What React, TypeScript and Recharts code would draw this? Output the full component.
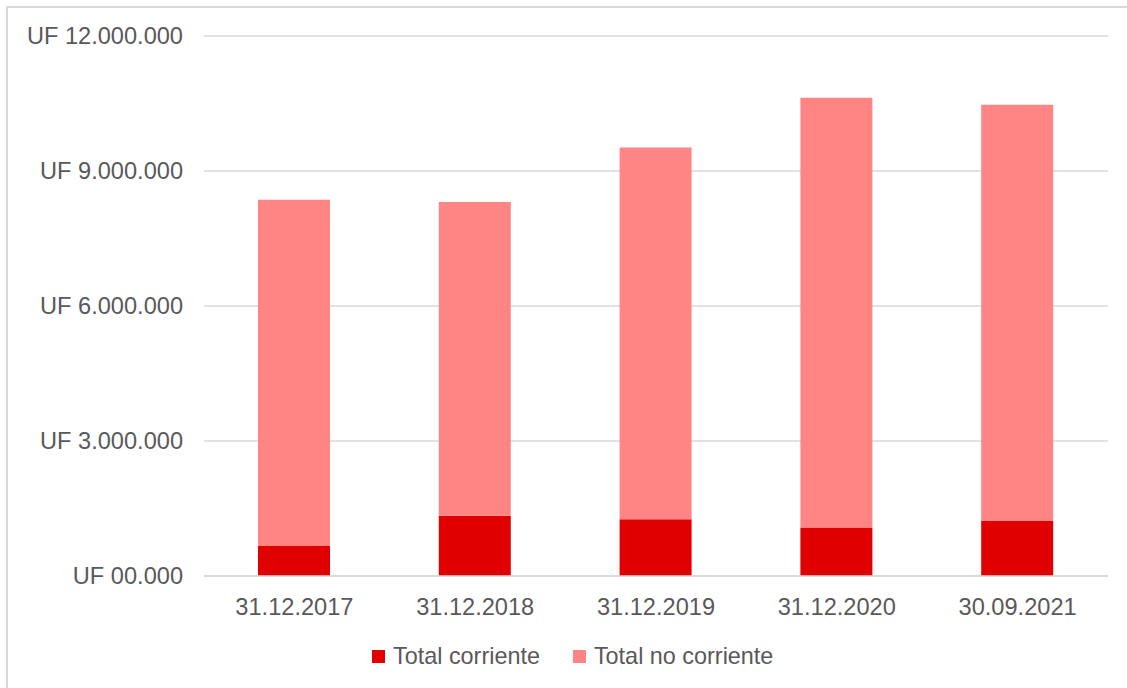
import { BarChart, Bar, XAxis, YAxis, CartesianGrid, Legend } from 'recharts'

const periods = ['31.12.2017', '31.12.2018', '31.12.2019', '31.12.2020', '30.09.2021']
const totalCorriente = [680000, 1340000, 1260000, 1080000, 1220000]
const totalNoCorriente = [7680000, 6970000, 8260000, 9550000, 9250000]
const yTicks = [0, 3000000, 6000000, 9000000, 12000000]
const yTickLabels = ['UF 00.000', 'UF 3.000.000', 'UF 6.000.000', 'UF 9.000.000', 'UF 12.000.000']

const seriesNames = ['Total corriente', 'Total no corriente']
const colors = ['#e00000', '#ff8585']

const data = periods.map((p, i) => ({
  period: p,
  corriente: totalCorriente[i],
  noCorriente: totalNoCorriente[i],
}))

const textColor = '#595959'
const font = '"Liberation Sans", Arial, sans-serif'
const fontSize = 23.6

function LegendBox() {
  return (
    <div style={{ display: 'flex', alignItems: 'center', fontFamily: font, fontSize: 23.4, color: textColor, lineHeight: '26px' }}>
      {seriesNames.map((n, i) => (
        <div key={n} style={{ display: 'flex', alignItems: 'center', marginRight: i === 0 ? 33 : 0 }}>
          <span style={{ width: 13, height: 13, background: colors[i], marginRight: 8, display: 'inline-block' }} />
          <span>{n}</span>
        </div>
      ))}
    </div>
  )
}

export default function App() {
  return (
    <div
      style={{
        position: 'absolute',
        left: 6,
        top: 6,
        width: 1121,
        height: 682,
        borderTop: '2px solid #d9d9d9',
        borderLeft: '2px solid #d9d9d9',
        boxSizing: 'border-box',
        background: '#fff',
        overflow: 'hidden',
      }}
    >
      <BarChart width={1119} height={680} data={data} margin={{ top: 28, right: 19, left: 0, bottom: 82 }}>
        <CartesianGrid vertical={false} stroke="#d9d9d9" strokeWidth={1.5} />
        <XAxis
          dataKey="period"
          tickLine={false}
          axisLine={{ stroke: '#d9d9d9', strokeWidth: 1.5 }}
          tickSize={6}
          tickMargin={16}
          tick={{ fill: textColor, fontSize, fontFamily: font }}
        />
        <YAxis
          width={196}
          domain={[0, 12000000]}
          ticks={yTicks}
          tickFormatter={(v) => yTickLabels[yTicks.indexOf(v)]}
          axisLine={false}
          tickLine={false}
          tickSize={6}
          tickMargin={15}
          tick={{ fill: textColor, fontSize, fontFamily: font }}
        />
        <Legend
          layout="vertical"
          align="center"
          verticalAlign="middle"
          content={() => <LegendBox />}
          wrapperStyle={{ position: 'absolute', left: 364, top: 635, width: 'auto' }}
        />
        <Bar dataKey="corriente" name={seriesNames[0]} stackId="a" fill={colors[0]} barSize={72} isAnimationActive={false} />
        <Bar dataKey="noCorriente" name={seriesNames[1]} stackId="a" fill={colors[1]} barSize={72} isAnimationActive={false} />
      </BarChart>
    </div>
  )
}
